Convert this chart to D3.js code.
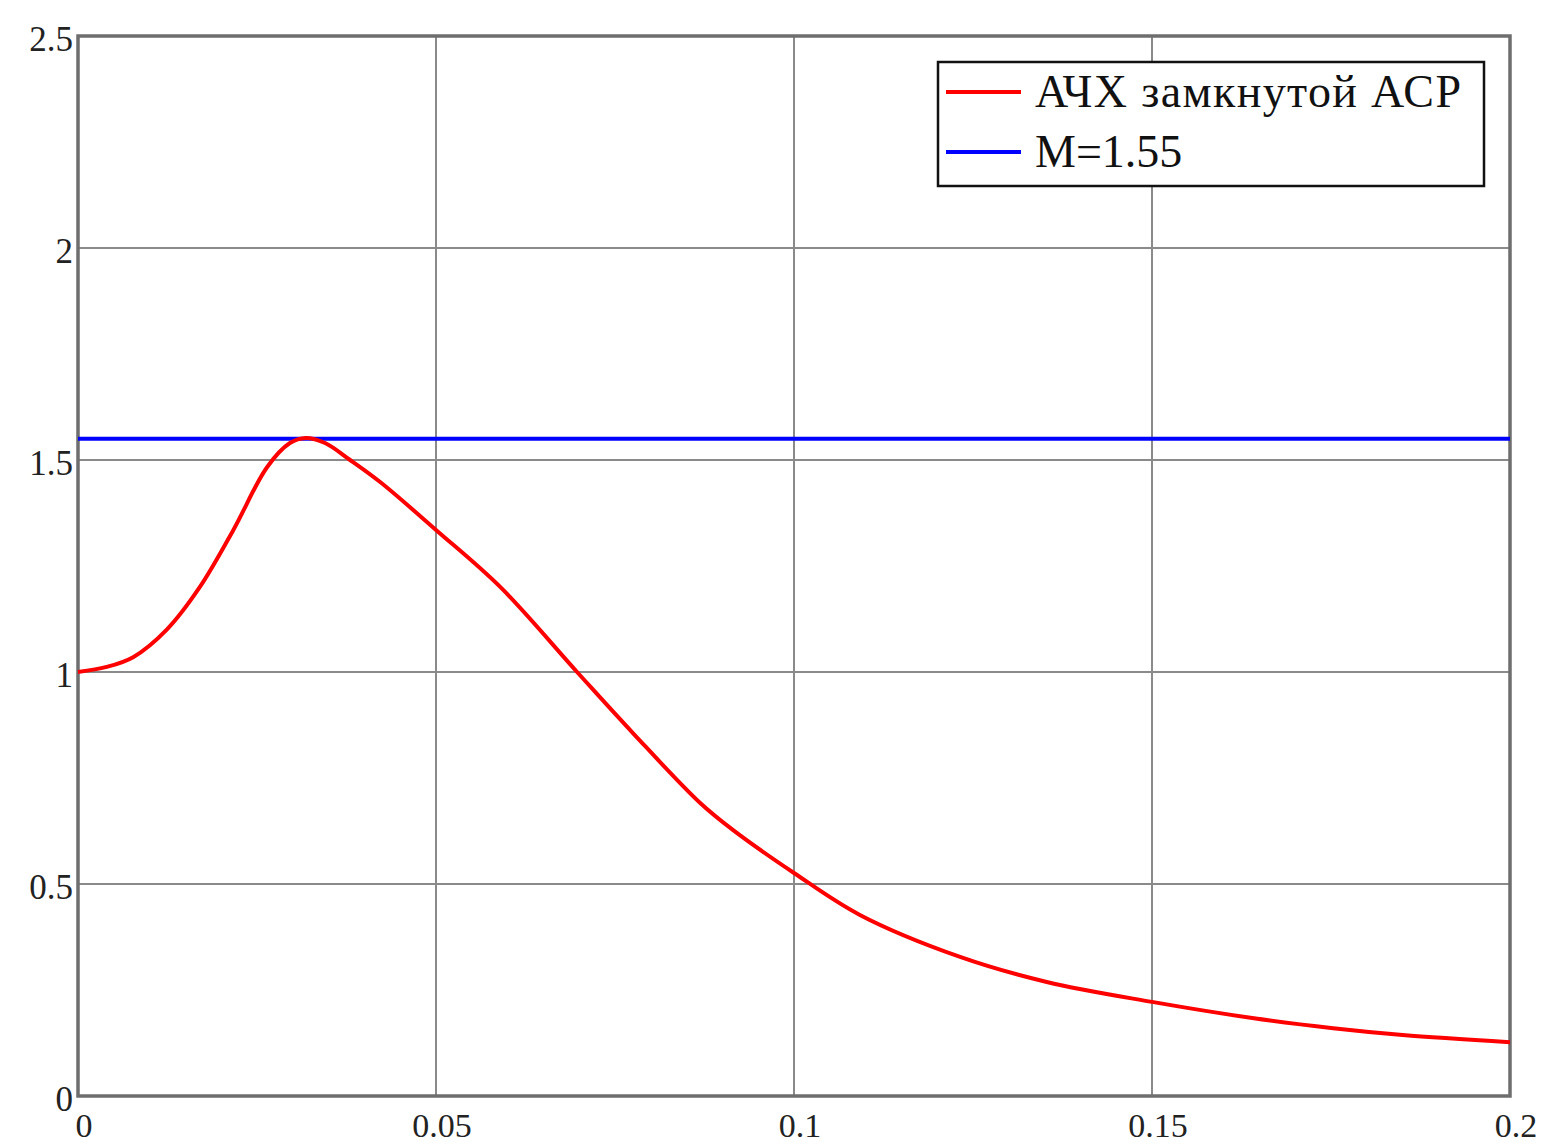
<!DOCTYPE html>
<html>
<head>
<meta charset="utf-8">
<script src="https://cdn.jsdelivr.net/npm/d3@7"></script>
<style>
  body { margin: 0; background: #fff; }
  svg { display: block; }
  text { font-family: "Liberation Serif", "DejaVu Serif", serif; }
</style>
</head>
<body>
<div id="chart"></div>
<script>
// Frequency (x) and closed-loop magnitude (y)
const freq = [0, 0.004, 0.0077, 0.0124, 0.017, 0.0217, 0.0264, 0.0296, 0.0318, 0.0345, 0.038, 0.0422,
  0.05, 0.059, 0.0697, 0.0775, 0.0869, 0.0915, 0.1, 0.1092, 0.1232, 0.1353, 0.15, 0.164, 0.1753, 0.185, 0.2];
const amp = [1.0, 1.012, 1.035, 1.10, 1.20, 1.335, 1.483, 1.54, 1.552, 1.54, 1.50, 1.448,
  1.335, 1.20, 1.0, 0.856, 0.691, 0.627, 0.526, 0.427, 0.328, 0.269, 0.222, 0.184, 0.160, 0.144, 0.127];
const mLevel = 1.55;
const xTicks = [0, 0.05, 0.1, 0.15, 0.2];
const yTicks = [0, 0.5, 1, 1.5, 2, 2.5];
const legendLabels = ["АЧХ замкнутой АСР", "M=1.55"];
const legendColors = ["#ff0000", "#0000ff"];

const width = 1542, height = 1145;
const margin = { left: 78, right: 32, top: 36, bottom: 49 };

const svg = d3.select("#chart").append("svg")
  .attr("width", width)
  .attr("height", height);

const x = d3.scaleLinear().domain([0, 0.2]).range([margin.left, width - margin.right]);
const y = d3.scaleLinear().domain([0, 2.5]).range([height - margin.bottom, margin.top]);

// grid
svg.append("g")
  .selectAll("line.gx")
  .data(xTicks)
  .join("line")
  .attr("x1", d => x(d)).attr("x2", d => x(d))
  .attr("y1", y(0)).attr("y2", y(2.5))
  .attr("stroke", "#8a8a8a")
  .attr("stroke-width", 2);

svg.append("g")
  .selectAll("line.gy")
  .data(yTicks)
  .join("line")
  .attr("x1", x(0)).attr("x2", x(0.2))
  .attr("y1", d => y(d)).attr("y2", d => y(d))
  .attr("stroke", "#8a8a8a")
  .attr("stroke-width", 2);

// frame
svg.append("rect")
  .attr("x", x(0)).attr("y", y(2.5))
  .attr("width", x(0.2) - x(0))
  .attr("height", y(0) - y(2.5))
  .attr("fill", "none")
  .attr("stroke", "#6e6e6e")
  .attr("stroke-width", 3.5);

// tick labels
svg.append("g")
  .selectAll("text")
  .data(yTicks)
  .join("text")
  .attr("x", x(0) - 5)
  .attr("y", d => y(d) + 15)
  .attr("text-anchor", "end")
  .attr("font-size", 35)
  .attr("fill", "#222")
  .text(d => d);

svg.append("g")
  .selectAll("text")
  .data(xTicks)
  .join("text")
  .attr("x", d => x(d) + 6)
  .attr("y", height - margin.bottom + 41)
  .attr("text-anchor", "middle")
  .attr("font-size", 34)
  .attr("fill", "#222")
  .text(d => d);

// M level line
svg.append("line")
  .attr("x1", x(0)).attr("x2", x(0.2))
  .attr("y1", y(mLevel)).attr("y2", y(mLevel))
  .attr("stroke", "#0000ff")
  .attr("stroke-width", 4);

// closed-loop magnitude response
const line = d3.line()
  .x((d, i) => x(freq[i]))
  .y(d => y(d))
  .curve(d3.curveCatmullRom.alpha(0.5));

svg.append("path")
  .datum(amp)
  .attr("d", line)
  .attr("fill", "none")
  .attr("stroke", "#ff0000")
  .attr("stroke-width", 4);

// legend
const lg = svg.append("g").attr("transform", "translate(938,62)");
lg.append("rect")
  .attr("width", 546).attr("height", 124)
  .attr("fill", "#fff")
  .attr("stroke", "#111")
  .attr("stroke-width", 2.5);

const items = lg.selectAll("g.item")
  .data(legendLabels)
  .join("g")
  .attr("transform", (d, i) => `translate(0,${30 + i * 60})`);

items.append("line")
  .attr("x1", 8).attr("x2", 83)
  .attr("stroke", (d, i) => legendColors[i])
  .attr("stroke-width", 4);

items.append("text")
  .attr("x", 97)
  .attr("y", 15)
  .attr("font-size", 46)
  .attr("textLength", (d, i) => i === 0 ? 426 : null)
  .attr("fill", "#111")
  .text(d => d);
</script>
</body>
</html>
